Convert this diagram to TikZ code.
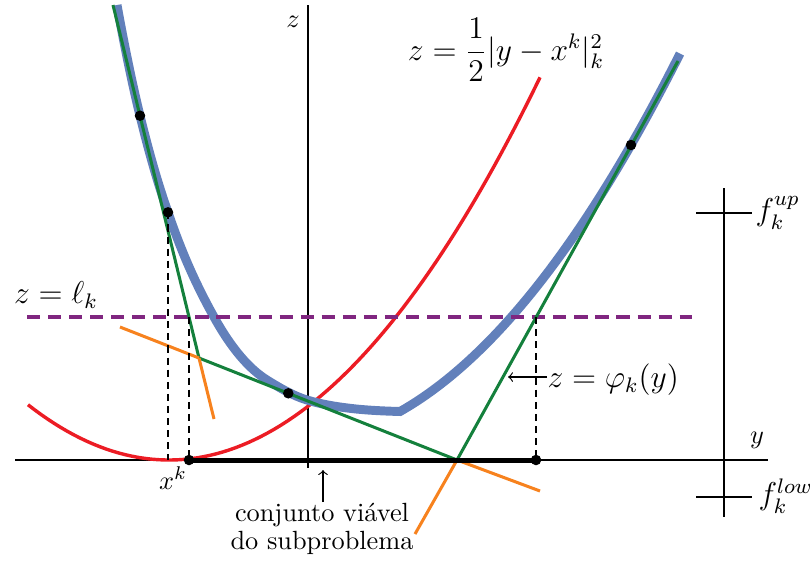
\documentclass[tikz,border=0pt]{standalone}
\usepackage{amsmath}
\definecolor{cred}{RGB}{236,28,36}
\definecolor{cgreen}{RGB}{20,128,60}
\definecolor{corange}{RGB}{247,130,30}
\definecolor{cpurple}{RGB}{128,38,128}
\definecolor{cblue}{RGB}{98,128,187}
\tikzset{
  axis/.style={line width=0.5pt},
  feasline/.style={line width=1.9pt},
  guide/.style={line width=0.45pt, dash pattern=on 2.7pt off 1.9pt},
  levelline/.style={cpurple, line width=1.5pt, dash pattern=on 5pt off 3pt},
  redcurve/.style={cred, line width=1.3pt},
  bluecurve/.style={cblue, line width=3.4pt},
  greenline/.style={cgreen, line width=1.15pt},
  orangeline/.style={corange, line width=1.15pt},
  dot/.style={circle, fill=black, inner sep=0pt, minimum size=4pt},
  lbl/.style={inner sep=0pt},
  biglbl/.style={inner sep=0pt, font=\large},
  thinarrow/.style={line width=0.45pt, ->}
}
\begin{document}
\begin{tikzpicture}[x=0.38pt, y=-0.38pt]
\useasboundingbox (0,0) rectangle (810,560);
% axes
\coordinate (xl) at (15,460);
\coordinate (xr) at (768,460);
\coordinate (zt) at (308,5);
\coordinate (zb) at (308,468);
\coordinate (rt) at (724,188);
\coordinate (rb) at (724,517);
\coordinate (upl) at (696,213);
\coordinate (upr) at (752,213);
\coordinate (lowl) at (696,497);
\coordinate (lowr) at (752,497);
\draw[axis] (xl) -- (xr);
\draw[axis] (zt) -- (zb);
\draw[axis] (rt) -- (rb);
\draw[axis] (upl) -- (upr);
\draw[axis] (lowl) -- (lowr);
% red parabola
\draw[redcurve] plot[domain=28:540, samples=80] (\x, {460-0.278*((\x-169)/10)^2});
% blue curve
\draw[bluecurve, line join=miter] (117,5)
  .. controls (124.667,47.17) and (132.333,84.27) .. (140,115.7)
  .. controls (149.233,153.56) and (158.467,185.52) .. (168,212.3)
  .. controls (183.133,257.06) and (198.567,289.22) .. (214,317)
  .. controls (231.667,348.8) and (249.333,369.05) .. (267,380)
  .. controls (280.333,388.27) and (293.667,396) .. (307,400)
  .. controls (321.333,404.3) and (335.667,406.58) .. (350,408.3)
  .. controls (366.667,410.3) and (383.333,411) .. (400,411.5)
  -- plot[domain=400:680, samples=50] (\x, {411.5-0.566*(\x-400)-0.2544*((\x-400)/10)^2});
% level line
\coordinate (ll) at (27,317);
\coordinate (lr) at (692,317);
\draw[levelline] (ll) -- (lr);
% green model
\coordinate (g0) at (113,5);
\coordinate (g1) at (199,358);
\coordinate (g2) at (457,460);
\coordinate (g3) at (678,61);
\draw[greenline, line join=miter] (g0) -- (g1) -- (g2) -- (g3);
% orange extensions
\coordinate (o1) at (120,327);
\coordinate (o2) at (214,419);
\coordinate (o3) at (540,491);
\coordinate (o4) at (415,534);
\draw[orangeline] (g1) -- (o1);
\draw[orangeline] (g1) -- (o2);
\draw[orangeline] (g2) -- (o3);
\draw[orangeline] (g2) -- (o4);
% feasible set
\node[dot] (fa) at (189,460) {};
\node[dot] (fb) at (536,460) {};
\draw[feasline] (fa.center) -- (fb.center);
% dots
\node[dot] (d1) at (140,115.7) {};
\node[dot] (d2) at (168,212.3) {};
\node[dot] (d3) at (288.3,393.3) {};
\node[dot] (d4) at (631,145) {};
% guides
\coordinate (xk) at (168,460);
\coordinate (ga) at (189,317);
\coordinate (gb) at (536,317);
\draw[guide] (d2.center) -- (xk);
\draw[guide] (ga) -- (fa.center);
\draw[guide] (gb) -- (fb.center);
% labels
\node[lbl] (zlab) at (293,22) {$z$};
\node[lbl] (ylab) at (757,440) {$y$};
\node[lbl] (xklab) at (173,478) {$x^k$};
\node[biglbl, anchor=west] (fup) at (755,213) {$f_k^{up}$};
\node[biglbl, anchor=west] (flow) at (758,496) {$f_k^{low}$};
\node[biglbl] (ell) at (56,295) {$z=\ell_k$};
\node[biglbl] (prox) at (506,50) {$z=\dfrac{1}{2}|y-x^k|_k^2$};
\node[biglbl, anchor=west] (phi) at (547,380) {$z=\varphi_k(y)$};
\coordinate (phitip) at (508,377);
\draw[thinarrow] (phi.west |- phitip) -- (phitip);
\node[lbl, align=center, font=\fontsize{10}{10.8}\selectfont] (feas) at (322,529) {conjunto vi\'avel\\do subproblema};
\coordinate (feastip) at (323,470);
\coordinate (feastail) at (323,502);
\draw[thinarrow] (feastail) -- (feastip);
\end{tikzpicture}
\end{document}
